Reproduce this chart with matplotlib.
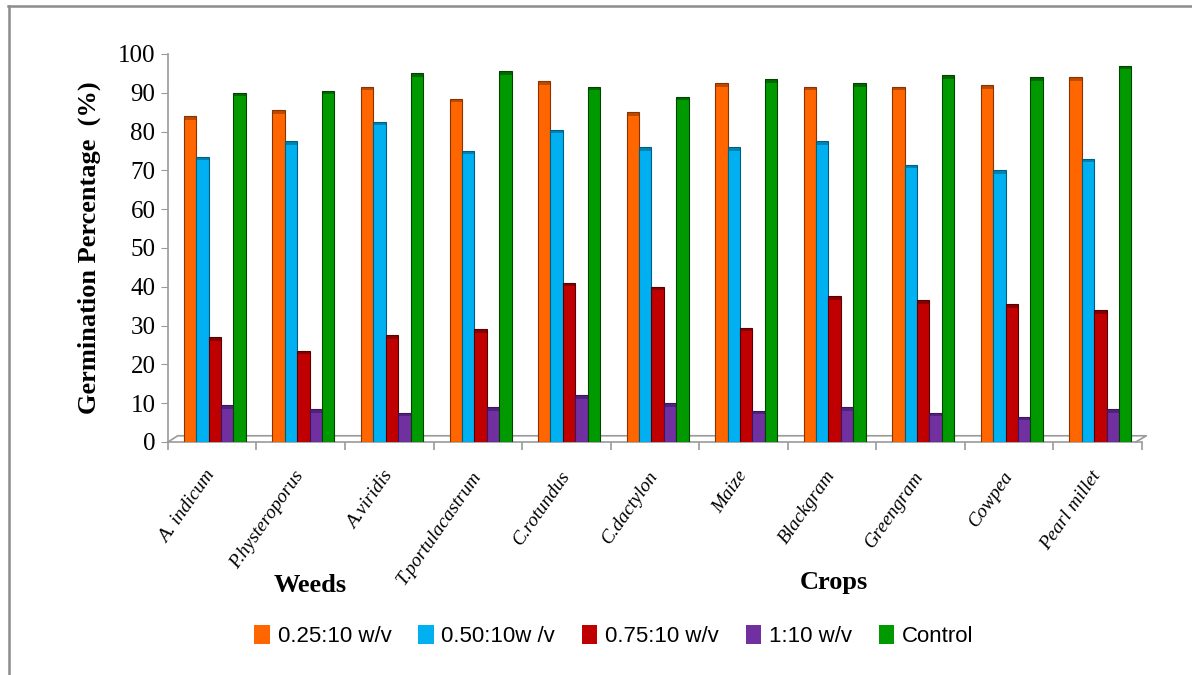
import numpy as np
import matplotlib.pyplot as plt
from matplotlib.patches import Patch

# germination percentage per species and extract concentration
species = ["A. indicum", "P.hysteroporus", "A.viridis", "T.portulacastrum",
           "C.rotundus", "C.dactylon", "Maize", "Blackgram", "Greengram",
           "Cowpea", "Pearl millet"]
series = ["0.25:10 w/v", "0.50:10w /v", "0.75:10 w/v", "1:10 w/v", "Control"]

conc_025 = [84, 85.5, 91.5, 88.5, 93, 85, 92.5, 91.5, 91.5, 92, 94]
conc_050 = [73.5, 77.5, 82.5, 75, 80.5, 76, 76, 77.5, 71.5, 70, 73]
conc_075 = [27, 23.5, 27.5, 29, 41, 40, 29.5, 37.5, 36.5, 35.5, 34]
conc_100 = [9.5, 8.5, 7.5, 9, 12, 10, 8, 9, 7.5, 6.5, 8.5]
control = [90, 90.5, 95, 95.5, 91.5, 89, 93.5, 92.5, 94.5, 94, 97]

colores = ["#FF6600", "#00B0F0", "#C00000", "#7030A0", "#009900"]
bordes = ["#8a3300", "#005f80", "#5a0000", "#3a1560", "#004400"]

serif = "Liberation Serif"

fig = plt.figure(figsize=(11.92, 6.75), dpi=100)
ax = fig.add_axes([0.1409, 0.3452, 0.8171, 0.5748])

x = np.arange(len(species))
ancho = 0.14
datos = [conc_025, conc_050, conc_075, conc_100, control]
for k, valores in enumerate(datos):
    pos = x + 0.03 + (k - 2) * ancho
    ax.bar(pos, valores, width=ancho, color=colores[k], edgecolor=bordes[k],
           linewidth=0.8, zorder=3)
    # tapa superior del "cilindro"
    ax.bar(pos, 0.9, bottom=np.array(valores) - 0.9, width=ancho,
           color=bordes[k], alpha=0.55, linewidth=0, zorder=4)

ax.set_xlim(-0.5, len(species) - 0.5)
ax.set_ylim(0, 100)

# piso en perspectiva
gris = "#9a9a9a"
ax.plot([-0.5, -0.39, 10.55, 10.43], [0, 1.6, 1.6, 0], color=gris, lw=1.2,
        clip_on=False, zorder=2)

for s in ["top", "right"]:
    ax.spines[s].set_visible(False)
ax.spines["left"].set_color(gris)
ax.spines["bottom"].set_color(gris)
ax.spines["left"].set_linewidth(1.2)
ax.spines["bottom"].set_linewidth(1.2)

ax.set_yticks(np.arange(0, 101, 10))
ax.tick_params(axis="y", length=5, color=gris, labelsize=18, pad=4)
for t in ax.get_yticklabels():
    t.set_fontfamily(serif)

ax.set_xticks(x)
ax.set_xticklabels(species, rotation=55, ha="right", va="center",
                   rotation_mode="anchor", fontsize=14, fontstyle="italic",
                   fontfamily=serif)
ax.tick_params(axis="x", length=0, pad=22)
ax.set_xticks(np.arange(-0.5, len(species)), minor=True)
ax.tick_params(axis="x", which="minor", length=6, color=gris, width=1.2)

ax.set_ylabel("Germination Percentage  (%)", fontsize=19, fontweight="bold",
              fontfamily=serif, labelpad=12)

fig.text(310 / 1192, 1 - 585 / 675, "Weeds", fontsize=19, fontweight="bold",
         fontfamily=serif, ha="center", va="center")
fig.text(834 / 1192, 1 - 582 / 675, "Crops", fontsize=19, fontweight="bold",
         fontfamily=serif, ha="center", va="center")

handles = [Patch(facecolor=c, edgecolor="none") for c in colores]
fig.legend(handles, series, loc="center", bbox_to_anchor=(0.515, 1 - 636 / 675),
           ncol=5, frameon=False, handlelength=0.7,
           handleheight=0.9, handletextpad=0.35, columnspacing=1.2,
           prop={"family": "Liberation Sans", "size": 16})

# marco exterior
fig.add_artist(plt.Line2D([8 / 1192, 1], [1 - 6 / 675, 1 - 6 / 675],
                          color="#8c8c8c", lw=1.8, transform=fig.transFigure))
fig.add_artist(plt.Line2D([9 / 1192, 9 / 1192], [0, 1 - 6 / 675],
                          color="#8c8c8c", lw=1.8, transform=fig.transFigure))

fig.savefig("out.png", dpi=100)
